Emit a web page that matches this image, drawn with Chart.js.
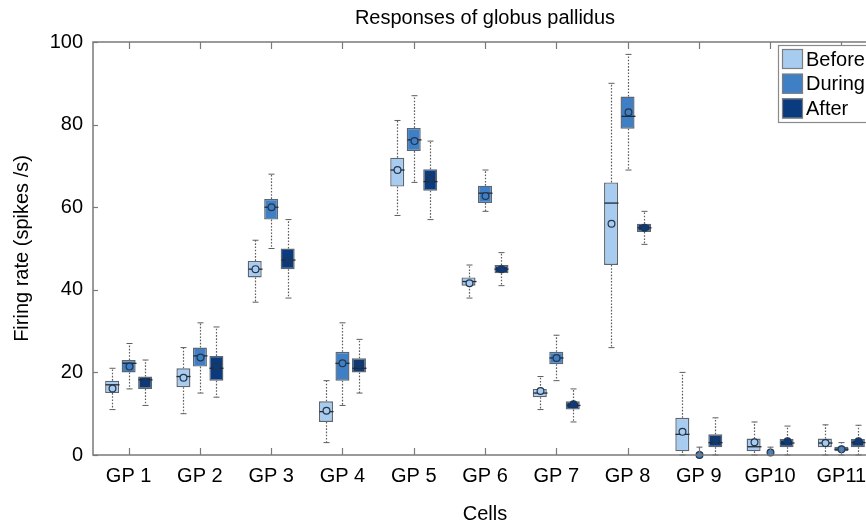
<!DOCTYPE html>
<html>
<head>
<meta charset="utf-8">
<script src="https://cdn.jsdelivr.net/npm/chart.js@4/dist/chart.umd.min.js"></script>
<style>
html,body{margin:0;padding:0;background:#fff;overflow:hidden;width:866px;height:526px}
canvas{display:block}
</style>
</head>
<body>
<canvas id="c" width="880" height="526"></canvas>
<script>
// ---- data ----
const categories = ['GP 1','GP 2','GP 3','GP 4','GP 5','GP 6','GP 7','GP 8','GP 9','GP10','GP11'];
const seriesNames = ['Before','During','After'];
const yTicks = [0, 20, 40, 60, 80, 100];

const beforeMin    = [11, 10, 37,  3, 58, 38, 11, 26, 0,   0,   0];
const beforeQ1     = [15, 16.4, 43, 8, 65, 41, 14, 46, 0.9, 0.9, 1.9];
const beforeMedian = [17, 19, 45, 10.5, 69, 42, 15, 61, 5, 2, 2.9];
const beforeQ3     = [18, 21, 47, 13, 72, 43, 16, 66, 9, 4, 4];
const beforeMax    = [21, 26, 52, 18, 81, 46, 19, 90, 20, 8, 7.3];
const beforeMean   = [16.1, 18.7, 45, 10.7, 69, 41.6, 15.5, 56, 5.6, 3.1, 2.9];

const duringMin    = [16, 15, 50, 12, 66, 59, 18, 69, 0, 0, 0];
const duringQ1     = [20, 21.4, 57, 18, 73.6, 61, 22, 79, 0, 0, 0.9];
const duringMedian = [22.2, 24, 60, 22.2, 76.3, 63.4, 23.5, 82, 0, 0, 1.4];
const duringQ3     = [23, 26, 62, 25, 79.2, 65.2, 25, 86.8, 0, 0, 2];
const duringMax    = [27, 32, 68, 32, 87, 69, 29, 97, 1.9, 1.9, 3];
const duringMean   = [21.4, 23.6, 60, 22.2, 76, 62.7, 23.5, 83, 0, 0.6, 1.4];

const afterMin     = [12, 14, 38, 15, 57, 41, 8, 51, 0, 0, 0];
const afterQ1      = [16, 18, 45, 20, 64, 44, 11, 54, 1.9, 1.9, 1.9];
const afterMedian  = [18.2, 21, 47.2, 21, 66.2, 45, 12, 55, 3, 2.9, 3];
const afterQ3      = [19, 24, 50, 23.4, 69.2, 46, 13, 56, 5, 3.9, 3.9];
const afterMax     = [23, 31, 57, 28, 76, 49, 16, 59, 9, 7, 7.2];
const afterMean    = [17.5, 21.4, 47, 22, 67, 45, 12.3, 55, 3.6, 3.3, 3.3];

// ---- styling ----
const seriesColors = ['#a8ccef', '#3f7fc6', '#0a3b7e'];
const frameColor = '#7a7a7a';
const FONT = 'Arial, "Liberation Sans", Helvetica, sans-serif';

const stats = [
  {min: beforeMin, q1: beforeQ1, med: beforeMedian, q3: beforeQ3, max: beforeMax, mean: beforeMean},
  {min: duringMin, q1: duringQ1, med: duringMedian, q3: duringQ3, max: duringMax, mean: duringMean},
  {min: afterMin,  q1: afterQ1,  med: afterMedian,  q3: afterQ3,  max: afterMax,  mean: afterMean}
];

function line(ctx, x1, y1, x2, y2) {
  ctx.beginPath(); ctx.moveTo(x1, y1); ctx.lineTo(x2, y2); ctx.stroke();
}

const boxPlotPlugin = {
  id: 'boxWhiskers',
  afterDatasetsDraw(chart) {
    const ctx = chart.ctx;
    const ys = chart.scales.y;
    chart.data.datasets.forEach((ds, di) => {
      const meta = chart.getDatasetMeta(di);
      const st = stats[di];
      meta.data.forEach((bar, i) => {
        const x = Math.round(bar.x) + 0.5;
        const w = bar.width;
        const pMin = ys.getPixelForValue(st.min[i]);
        const pMax = ys.getPixelForValue(st.max[i]);
        const pQ1 = ys.getPixelForValue(st.q1[i]);
        const pQ3 = ys.getPixelForValue(st.q3[i]);
        const pMed = ys.getPixelForValue(st.med[i]);
        const pMean = ys.getPixelForValue(st.mean[i]);
        ctx.save();
        ctx.strokeStyle = '#5e5e5e';
        ctx.lineWidth = 1.2;
        ctx.setLineDash([1.6, 1.6]);
        if (pMax < pQ3) line(ctx, x, pQ3, x, pMax);
        if (pMin > pQ1) line(ctx, x, pQ1, x, pMin);
        ctx.setLineDash([]);
        ctx.lineWidth = 1;
        line(ctx, x - 3, pMax, x + 3, pMax);
        line(ctx, x - 3, pMin, x + 3, pMin);
        if (pQ1 - pQ3 > 0.5) {
          ctx.strokeStyle = '#1f2a3a';
          ctx.lineWidth = 1.3;
          line(ctx, x - w / 2, pMed, x + w / 2, pMed);
        }
        ctx.beginPath();
        ctx.arc(x, pMean, 3.4, 0, Math.PI * 2);
        ctx.fillStyle = ds.backgroundColor;
        ctx.fill();
        ctx.strokeStyle = '#26354a';
        ctx.lineWidth = 1.2;
        ctx.stroke();
        ctx.restore();
      });
    });
  }
};

const framePlugin = {
  id: 'frameTicks',
  afterDatasetsDraw(chart) {
    const ctx = chart.ctx;
    const a = chart.chartArea;
    const xs = chart.scales.x, ys = chart.scales.y;
    ctx.save();
    ctx.strokeStyle = frameColor;
    ctx.lineWidth = 1.5;
    ctx.strokeRect(a.left, a.top, a.right - a.left, a.bottom - a.top);
    ctx.lineWidth = 1.2;
    xs.ticks.forEach((t, i) => {
      const px = Math.round(xs.getPixelForTick(i)) + 0.5;
      line(ctx, px, a.bottom, px, a.bottom - 7);
      line(ctx, px, a.top, px, a.top + 7);
    });
    ys.ticks.forEach((t) => {
      const py = Math.round(ys.getPixelForValue(t.value)) + 0.5;
      line(ctx, a.left, py, a.left + 5, py);
      line(ctx, a.right, py, a.right - 5, py);
    });
    ctx.restore();
  }
};

const legendPlugin = {
  id: 'insideLegend',
  afterDraw(chart) {
    const ctx = chart.ctx;
    const a = chart.chartArea;
    const bx = a.right - 99, by = a.top + 3;
    ctx.save();
    ctx.fillStyle = '#fff';
    ctx.fillRect(bx, by, 110, 77);
    ctx.strokeStyle = '#8a8a8a';
    ctx.lineWidth = 1.2;
    ctx.strokeRect(bx + 0.5, by + 0.5, 110, 77);
    chart.data.datasets.forEach((ds, i) => {
      const sy = by + 4 + i * 24.7;
      ctx.fillStyle = ds.backgroundColor;
      ctx.fillRect(bx + 4, sy, 21, 20);
      ctx.strokeStyle = '#7d7d7d';
      ctx.lineWidth = 1.2;
      ctx.strokeRect(bx + 4.5, sy + 0.5, 20, 19);
      ctx.fillStyle = '#000';
      ctx.font = '20px ' + FONT;
      ctx.textBaseline = 'middle';
      ctx.textAlign = 'left';
      ctx.fillText(ds.label, bx + 28, sy + 11);
    });
    ctx.restore();
  }
};

const datasets = seriesNames.map((name, di) => ({
  label: name,
  data: categories.map((c, i) => [stats[di].q1[i], stats[di].q3[i]]),
  backgroundColor: seriesColors[di],
  borderColor: '#5d6570',
  borderWidth: 1.4,
  borderSkipped: false,
  categoryPercentage: 0.694,
  barPercentage: 0.85
}));

new Chart(document.getElementById('c'), {
  type: 'bar',
  data: { labels: categories, datasets: datasets },
  plugins: [boxPlotPlugin, framePlugin, legendPlugin],
  options: {
    responsive: false,
    animation: false,
    devicePixelRatio: 1,
    layout: { padding: { left: 0, right: 3, top: 0, bottom: 0 } },
    plugins: {
      legend: { display: false },
      tooltip: { enabled: false },
      title: {
        display: true,
        text: 'Responses of globus pallidus',
        color: '#000',
        font: { family: FONT, size: 20, weight: 'normal' },
        padding: { top: 6, bottom: 12 },
        fullSize: false
      }
    },
    scales: {
      x: {
        type: 'category',
        offset: true,
        grid: { display: false, drawTicks: false },
        border: { display: false },
        ticks: { color: '#000', font: { family: FONT, size: 20 }, padding: 9, maxRotation: 0, autoSkip: false },
        title: { display: true, text: 'Cells', color: '#000', font: { family: FONT, size: 20 }, padding: { top: 0, bottom: 0 } },
        afterFit(s) { s.height = 71; }
      },
      y: {
        type: 'linear',
        min: 0,
        max: 100,
        afterBuildTicks(s) { s.ticks = yTicks.map(v => ({ value: v })); },
        grid: { display: false, drawTicks: false },
        border: { display: false },
        ticks: { color: '#000', font: { family: FONT, size: 20 }, padding: 10 },
        title: { display: true, text: 'Firing rate (spikes /s)', color: '#000', font: { family: FONT, size: 20 }, padding: { top: 10, bottom: 0 } },
        afterFit(s) { s.width = 93; }
      }
    }
  }
});
</script>
</body>
</html>
